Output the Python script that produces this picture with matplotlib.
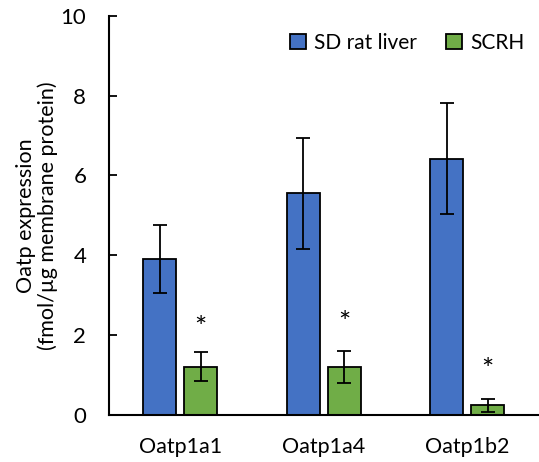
import matplotlib
matplotlib.use("Agg")
import matplotlib.pyplot as plt
import numpy as np

categories = ["Oatp1a1", "Oatp1a4", "Oatp1b2"]
sd_mean = [3.9, 5.55, 6.42]
sd_err = [0.85, 1.4, 1.4]
scrh_mean = [1.2, 1.2, 0.23]
scrh_err = [0.36, 0.4, 0.17]
star_y = [2.15, 2.27, 1.1]
series_names = ["SD rat liver", "SCRH"]
yticks = [0, 2, 4, 6, 8, 10]

plt.rcParams['font.family'] = ['Lato', 'DejaVu Sans']

fig = plt.figure(figsize=(5.39, 4.62), dpi=100)
ax = fig.add_axes([0.2013, 0.1028, 0.7987, 0.8626])

x = np.arange(len(categories))
w = 0.23
off = 0.142
blue = "#4472C4"
green = "#70AD47"
ekw = dict(ecolor="black", elinewidth=1.3, capsize=5, capthick=1.3)
ax.bar(x - off, sd_mean, w, yerr=sd_err, color=blue, edgecolor="black",
       linewidth=1.3, label=series_names[0], error_kw=ekw)
ax.bar(x + off, scrh_mean, w, yerr=scrh_err, color=green, edgecolor="black",
       linewidth=1.3, label=series_names[1], error_kw=ekw)
for xi, sy in zip(x, star_y):
    ax.text(xi + off, sy, "*", ha="center", va="center", fontsize=21)

ax.set_xlim(-0.5, 2.5)
ax.set_ylim(0, 10)
ax.set_yticks(yticks)
ax.set_xticks(x)
ax.set_xticklabels(categories, fontsize=15.5)
ax.tick_params(axis="y", direction="in", length=6, width=1.3, labelsize=16, pad=16)
ax.tick_params(axis="x", length=0, pad=16)
for s in ["top", "right"]:
    ax.spines[s].set_visible(False)
for s in ["left", "bottom"]:
    ax.spines[s].set_linewidth(1.5)
ax.set_ylabel("Oatp expression\n(fmol/µg membrane protein)", fontsize=15.5, labelpad=2,
              linespacing=1.05)

leg = ax.legend(loc="upper right", bbox_to_anchor=(1.0, 0.995), ncol=2, frameon=False,
                fontsize=15, handlelength=0.75, handleheight=0.75, handletextpad=0.4,
                columnspacing=1.4, borderaxespad=0.3)

fig.savefig("out.png", dpi=100)
